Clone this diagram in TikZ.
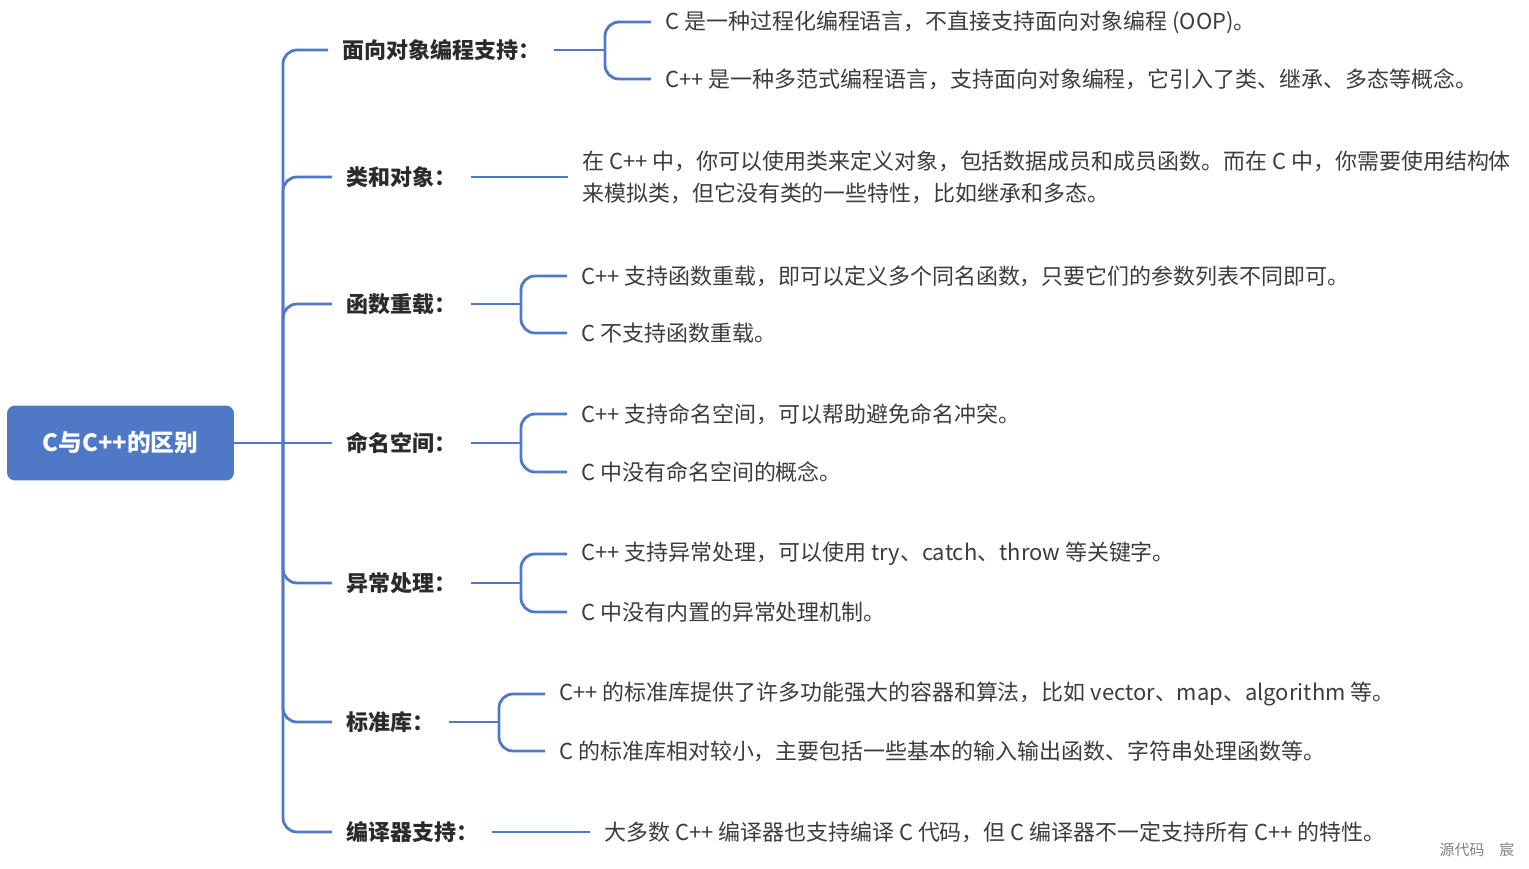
\documentclass[tikz,border=0pt]{standalone}
\usepackage{fontspec}
\setmainfont{Noto Sans CJK SC}
\definecolor{bleu}{HTML}{4F79C7}
\definecolor{texte}{HTML}{2B2B2B}
\definecolor{gris}{HTML}{3C3C3C}
\begin{document}
\begin{tikzpicture}[x=0.02cm,y=-0.02cm]
\tikzset{racine/.style={fill=bleu, rounded corners=0.16cm, text=white, font=\fontsize{13.5}{16}\selectfont\bfseries, minimum width=4.54cm, minimum height=1.5cm}}
\tikzset{branche/.style={anchor=west, inner xsep=0.28cm, inner ysep=0pt, text=texte, font=\fontsize{12.5}{15}\selectfont\bfseries}}
\tikzset{feuille/.style={anchor=west, inner xsep=0.28cm, inner ysep=0pt, text=gris, font=\fontsize{12.5}{18.2}\selectfont, align=left}}
\tikzset{lien/.style={draw=bleu, line width=1.6pt, rounded corners=0.28cm}}
\useasboundingbox (0,0) rectangle (1529,869);
\node[racine] (R) at (120.5,443) {C与C++的区别};
\node[branche] (B1) at (328,50) {面向对象编程支持：};
\node[branche] (B2) at (332,177) {类和对象：};
\node[branche] (B3) at (332,304) {函数重载：};
\node[branche] (B4) at (332,443) {命名空间：};
\node[branche] (B5) at (332,583) {异常处理：};
\node[branche] (B6) at (332,722) {标准库：};
\node[branche] (B7) at (332,832) {编译器支持：};
\node[feuille] (L11) at (651,22) {C 是一种过程化编程语言，不直接支持面向对象编程 (OOP)。};
\node[feuille] (L12) at (651,79) {C++ 是一种多范式编程语言，支持面向对象编程，它引入了类、继承、多态等概念。};
\node[feuille] (L2) at (568,177) {在 C++ 中，你可以使用类来定义对象，包括数据成员和成员函数。而在 C 中，你需要使用结构体\\来模拟类，但它没有类的一些特性，比如继承和多态。};
\node[feuille] (L31) at (567,276) {C++ 支持函数重载，即可以定义多个同名函数，只要它们的参数列表不同即可。};
\node[feuille] (L32) at (567,333) {C 不支持函数重载。};
\node[feuille] (L41) at (567,414) {C++ 支持命名空间，可以帮助避免命名冲突。};
\node[feuille] (L42) at (567,472) {C 中没有命名空间的概念。};
\node[feuille] (L51) at (567,554) {C++ 支持异常处理，可以使用 try、catch、throw 等关键字。};
\node[feuille] (L52) at (567,612) {C 中没有内置的异常处理机制。};
\node[feuille] (L61) at (545,694) {C++ 的标准库提供了许多功能强大的容器和算法，比如 vector、map、algorithm 等。};
\node[feuille] (L62) at (545,751) {C 的标准库相对较小，主要包括一些基本的输入输出函数、字符串处理函数等。};
\node[feuille] (L7) at (590,832) {大多数 C++ 编译器也支持编译 C 代码，但 C 编译器不一定支持所有 C++ 的特性。};
\node[text=gray, font=\fontsize{8.5}{10}\selectfont] (W) at (1477,850) {源代码\quad 宸};
\coordinate (T) at (283,443);
\coordinate (J1) at (605,50);
\coordinate (J3) at (521,304);
\coordinate (J4) at (521,443);
\coordinate (J5) at (521,583);
\coordinate (J6) at (499,722);
\draw[lien] (R.east) -- (B4.west);
\draw[lien] (T) |- (B1.west);
\draw[lien] (T) |- (B2.west);
\draw[lien] (T) |- (B3.west);
\draw[lien] (T) |- (B5.west);
\draw[lien] (T) |- (B6.west);
\draw[lien] (T) |- (B7.west);
\draw[lien] (B1.east) -- (J1);
\draw[lien] (J1) |- (L11.west);
\draw[lien] (J1) |- (L12.west);
\draw[lien] (B2.east) -- (L2.west);
\draw[lien] (B3.east) -- (J3);
\draw[lien] (J3) |- (L31.west);
\draw[lien] (J3) |- (L32.west);
\draw[lien] (B4.east) -- (J4);
\draw[lien] (J4) |- (L41.west);
\draw[lien] (J4) |- (L42.west);
\draw[lien] (B5.east) -- (J5);
\draw[lien] (J5) |- (L51.west);
\draw[lien] (J5) |- (L52.west);
\draw[lien] (B6.east) -- (J6);
\draw[lien] (J6) |- (L61.west);
\draw[lien] (J6) |- (L62.west);
\draw[lien] (B7.east) -- (L7.west);
\end{tikzpicture}
\end{document}
